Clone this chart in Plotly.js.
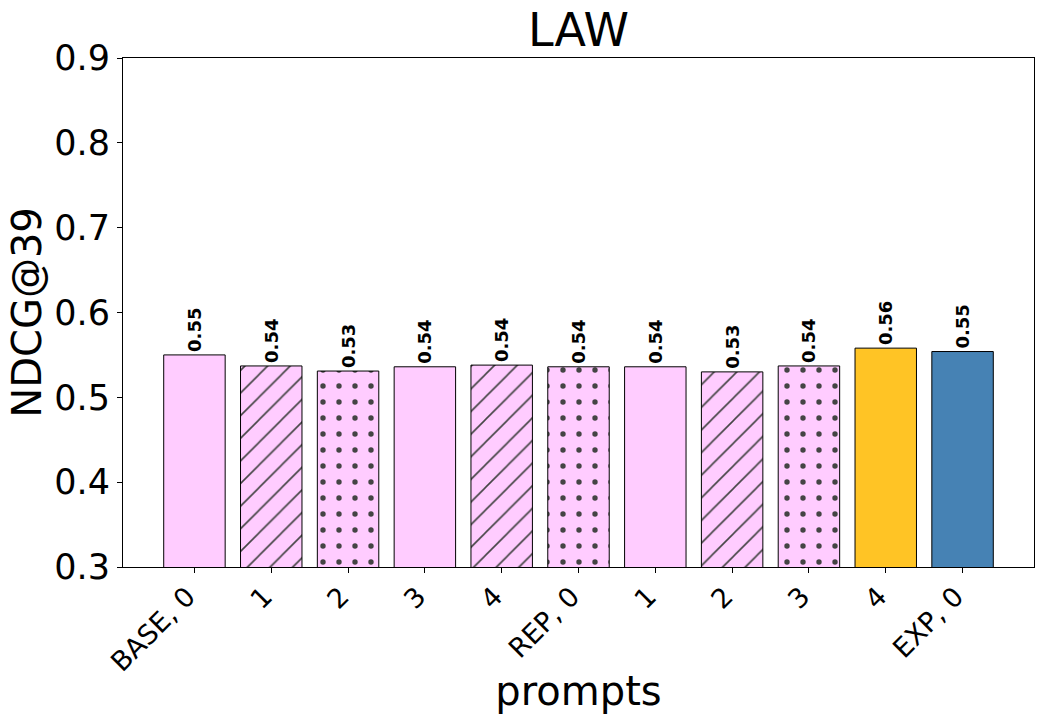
<!DOCTYPE html>
<html>
<head>
<meta charset="utf-8">
<script src="https://cdn.plot.ly/plotly-3.0.1.min.js"></script>
<style>html,body{margin:0;padding:0;background:#fff;}#chart{width:1044px;height:721px;}</style>
</head>
<body>
<div id="chart"></div>
<script>
const tickLabels = ["BASE, 0", "1", "2", "3", "4", "REP, 0", "1", "2", "3", "4", "EXP, 0"];
const ndcgValues = [0.550, 0.537, 0.531, 0.536, 0.538, 0.536, 0.536, 0.530, 0.537, 0.558, 0.554];
const barColors = ["#FFCCFF", "#FFCCFF", "#FFCCFF", "#FFCCFF", "#FFCCFF", "#FFCCFF", "#FFCCFF", "#FFCCFF", "#FFCCFF", "#FFC425", "#4682B4"];
const hatchShapes = ["", "/", ".", "", "/", ".", "", "/", ".", "", ""];
const positions = tickLabels.map((_, i) => i);
const solidities = hatchShapes.map(s => s === "." ? 0.09 : 0.1);

const trace = {
  type: "bar",
  x: positions,
  y: ndcgValues,
  width: 0.8,
  marker: {
    color: barColors,
    line: {color: "black", width: 1},
    pattern: {
      shape: hatchShapes,
      fillmode: "overlay",
      fgcolor: "black",
      fgopacity: 1,
      bgcolor: barColors,
      size: 16,
      solidity: solidities
    }
  },
  texttemplate: "%{y:.2f}",
  textposition: "outside",
  textangle: -90,
  constraintext: "none",
  cliponaxis: false,
  textfont: {family: "DejaVu Sans", size: 18, color: "black", weight: "bold"},
  hoverinfo: "none"
};

const layout = {
  width: 1044,
  height: 721,
  margin: {l: 123, r: 10, t: 58, b: 154},
  paper_bgcolor: "white",
  plot_bgcolor: "white",
  showlegend: false,
  font: {family: "DejaVu Sans", color: "black"},
  title: {text: "LAW", font: {family: "DejaVu Sans", size: 46, color: "black"},
          x: 0.5, xref: "paper", xanchor: "center", y: 1 - 30 / 721, yref: "container", yanchor: "middle"},
  xaxis: {
    range: [-0.93, 10.93],
    tickmode: "array",
    tickvals: positions,
    ticktext: tickLabels,
    tickangle: -45,
    tickfont: {family: "DejaVu Sans", size: 27, color: "black"},
    ticklabelshift: -7,
    ticklabelstandoff: -3,
    ticks: "outside", ticklen: 5, tickwidth: 1, tickcolor: "black",
    showline: true, mirror: true, linecolor: "black", linewidth: 1,
    showgrid: false, zeroline: false,
    title: {text: "prompts", font: {family: "DejaVu Sans", size: 40, color: "black"}, standoff: 0}
  },
  yaxis: {
    range: [0.3, 0.9],
    tickmode: "array",
    tickvals: [0.3, 0.4, 0.5, 0.6, 0.7, 0.8, 0.9],
    ticktext: ["0.3", "0.4", "0.5", "0.6", "0.7", "0.8", "0.9"],
    tickfont: {family: "DejaVu Sans", size: 35, color: "black"},
    ticks: "outside", ticklen: 5, tickwidth: 1, tickcolor: "black",
    showline: true, mirror: true, linecolor: "black", linewidth: 1,
    showgrid: false, zeroline: false,
    title: {text: "NDCG@39", font: {family: "DejaVu Sans", size: 40, color: "black"}, standoff: 0}
  }
};

Plotly.newPlot("chart", [trace], layout, {staticPlot: true, displayModeBar: false});
</script>
</body>
</html>
